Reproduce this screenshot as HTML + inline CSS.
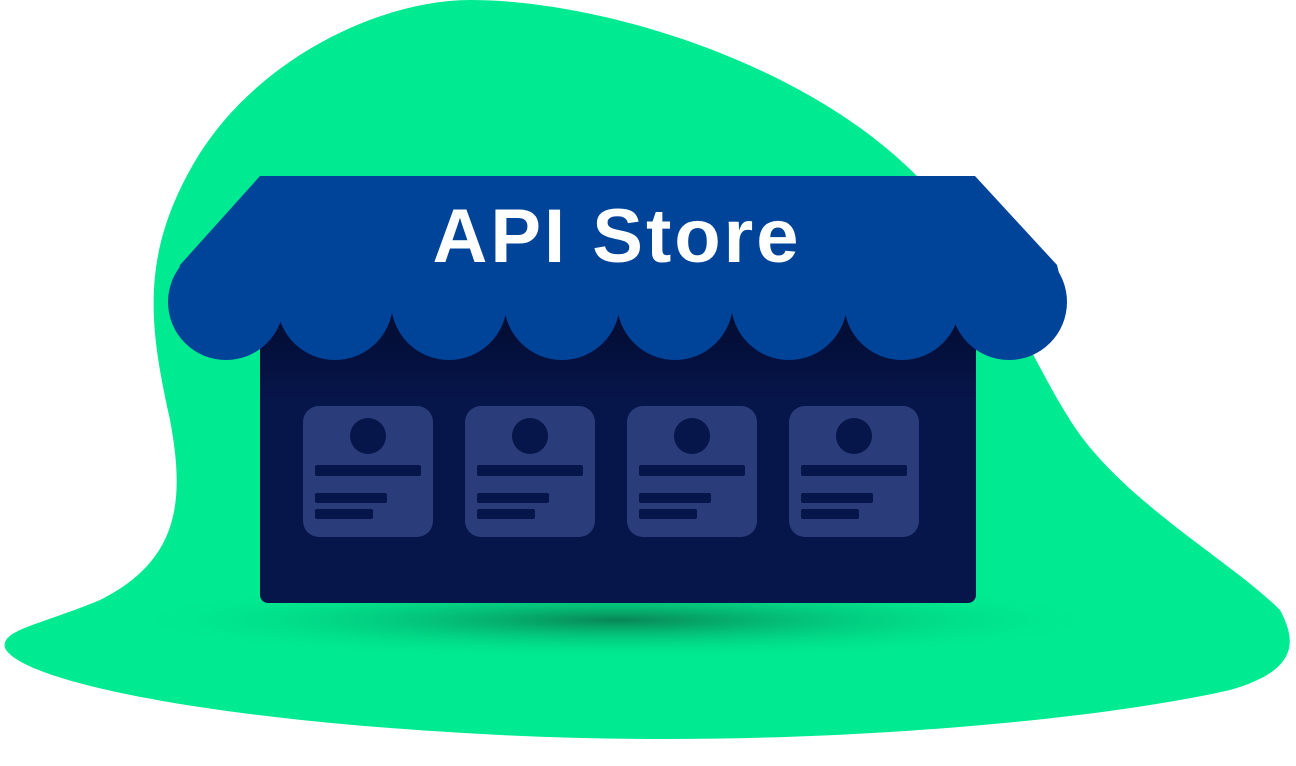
<!DOCTYPE html>
<html><head><style>html,body{margin:0;padding:0;background:#fff;overflow:hidden}</style></head>
<body>
<svg width="1296" height="761" viewBox="0 0 1296 761" xmlns="http://www.w3.org/2000/svg">
<defs>
<radialGradient id="sh" cx="0.5" cy="0.5" r="0.5">
<stop offset="0" stop-color="#0a7a4f" stop-opacity="0.9"/>
<stop offset="1" stop-color="#00e98f" stop-opacity="0"/>
</radialGradient>
<linearGradient id="bd" x1="0" y1="0" x2="0" y2="1">
<stop offset="0" stop-color="#020a2a"/>
<stop offset="0.35" stop-color="#06154a"/>
<stop offset="1" stop-color="#06154a"/>
</linearGradient>
</defs>
<path fill="#00ea91" d="M470,0 C380,0 250,60 190,170 C140,260 150,330 170,420 C185,500 180,560 100,600 C40,625 0,630 5,648 C20,680 200,720 500,735 C800,750 1100,720 1230,690 C1300,670 1296,640 1280,610 C1230,560 1120,500 1070,420 C1020,340 980,230 900,160 C790,60 600,0 470,0 Z"/>
<ellipse cx="617" cy="620" rx="500" ry="40" fill="url(#sh)"/>
<rect x="260" y="290" width="716" height="313" rx="8" fill="url(#bd)"/>
<g fill="#00449a">
<path d="M260,176 L975,176 L1057,265 L1066,302 L170,302 L180,265 Z"/>
<circle cx="226" cy="302" r="58"/>
<circle cx="335" cy="302" r="58"/>
<circle cx="449" cy="302" r="58"/>
<circle cx="562" cy="302" r="58"/>
<circle cx="675" cy="302" r="58"/>
<circle cx="789" cy="302" r="58"/>
<circle cx="902" cy="302" r="58"/>
<circle cx="1009" cy="302" r="58"/>
</g>
<text x="617" y="262" text-anchor="middle" font-family="Liberation Sans, sans-serif" font-weight="bold" font-size="76" letter-spacing="3" fill="#fff">API Store</text>
<g id="c">
<rect x="303" y="406" width="130" height="131" rx="16" fill="#2a3d7a"/>
<circle cx="368" cy="436" r="18" fill="#06154a"/>
<rect x="315" y="465" width="106" height="11" rx="2" fill="#06154a"/>
<rect x="315" y="493" width="72" height="10" rx="2" fill="#06154a"/>
<rect x="315" y="509" width="58" height="10" rx="2" fill="#06154a"/>
</g>
<use href="#c" x="162"/>
<use href="#c" x="324"/>
<use href="#c" x="486"/>
</svg>
</body></html>
